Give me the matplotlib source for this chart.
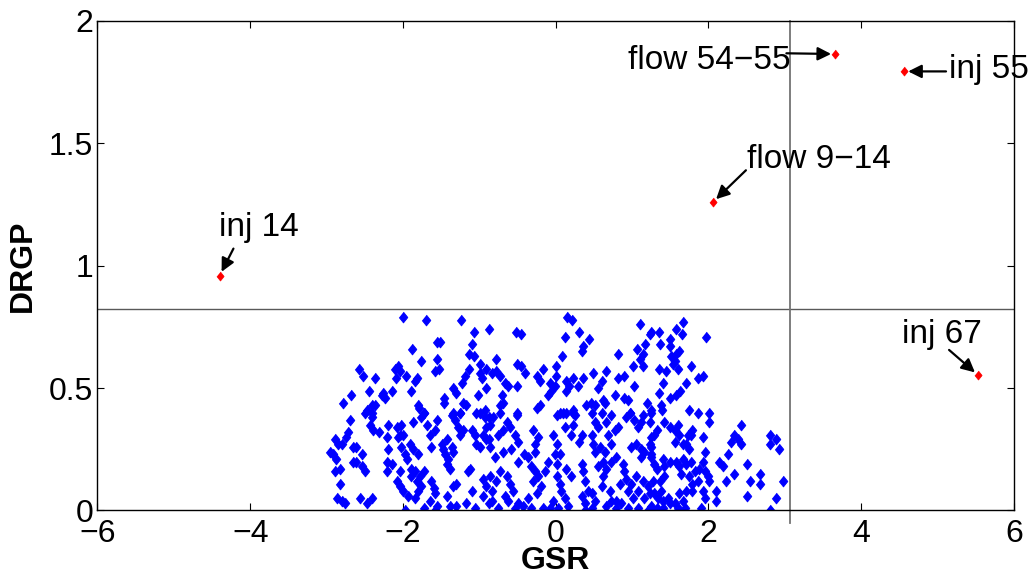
import matplotlib.pyplot as plt
import numpy as np

plt.rcParams['font.family'] = ['Liberation Sans', 'DejaVu Sans']

# (GSR, DRGP) of the ordinary cases
normal_pts = [
    (-2.00, 0.79), (-1.70, 0.78), (-1.24, 0.78), (-1.07, 0.73), (-0.88, 0.74), (-1.55, 0.69),
    (-1.52, 0.69), (-1.09, 0.68), (-1.88, 0.66), (-1.56, 0.62), (-1.13, 0.64), (-1.07, 0.63),
    (-1.76, 0.61), (-0.99, 0.60), (-2.57, 0.58), (-2.52, 0.55), (-2.06, 0.59), (-2.10, 0.58),
    (-2.04, 0.57), (-1.58, 0.57), (-1.53, 0.58), (-1.14, 0.58), (-2.37, 0.54), (-2.09, 0.54),
    (-1.96, 0.55), (-1.82, 0.54), (-1.84, 0.53), (-1.19, 0.55), (-1.23, 0.52), (-0.99, 0.56),
    (-0.97, 0.54), (-0.91, 0.58), (-0.91, 0.50), (-2.79, 0.44), (-2.68, 0.47), (-2.44, 0.49),
    (-2.26, 0.48), (-2.28, 0.47), (-2.24, 0.46), (-2.15, 0.49), (-1.90, 0.49), (-1.34, 0.50),
    (-1.30, 0.48), (-1.46, 0.46), (-1.46, 0.44), (-1.21, 0.44), (-1.18, 0.43), (-1.02, 0.47),
    (-1.81, 0.43), (-1.79, 0.42), (-2.47, 0.41), (-2.41, 0.43), (-2.37, 0.43), (-1.73, 0.40),
    (-1.34, 0.40), (-1.25, 0.40), (-1.04, 0.40), (-0.93, 0.41),
    # lower left
    (-2.69, 0.37), (-2.50, 0.40), (-2.41, 0.40), (-2.41, 0.38), (-2.43, 0.35), (-2.39, 0.33),
    (-2.32, 0.32), (-2.72, 0.32), (-2.75, 0.30), (-2.89, 0.29), (-2.85, 0.27), (-2.80, 0.27),
    (-2.95, 0.24), (-2.91, 0.23), (-2.88, 0.21), (-2.65, 0.26), (-2.61, 0.26), (-2.54, 0.23),
    (-2.65, 0.20), (-2.61, 0.20), (-2.54, 0.18), (-2.50, 0.16), (-2.89, 0.16), (-2.83, 0.17),
    (-2.82, 0.11), (-2.87, 0.05), (-2.80, 0.04), (-2.76, 0.03), (-2.56, 0.05), (-2.47, 0.03),
    (-2.41, 0.05), (-2.19, 0.35), (-2.21, 0.30), (-2.19, 0.25), (-2.21, 0.20), (-2.21, 0.16),
    (-2.15, 0.19), (-2.08, 0.34), (-2.04, 0.31), (-2.06, 0.30), (-2.02, 0.35), (-2.00, 0.31),
    (-2.02, 0.26), (-1.97, 0.23), (-1.95, 0.21), (-1.91, 0.27), (-1.87, 0.25), (-1.80, 0.23),
    (-2.04, 0.16), (-2.08, 0.12), (-2.04, 0.10), (-2.00, 0.08), (-1.93, 0.06), (-1.97, 0.00),
    (-1.89, 0.17), (-1.84, 0.16), (-1.89, 0.14), (-1.82, 0.12), (-1.78, 0.14), (-1.73, 0.16),
    (-1.76, 0.10), (-1.80, 0.08), (-1.84, 0.05), (-1.87, 0.36), (-1.76, 0.38), (-1.73, 0.40),
    (-1.69, 0.35), (-1.65, 0.31), (-1.63, 0.26), (-1.58, 0.33), (-1.56, 0.37), (-1.63, 0.12),
    (-1.60, 0.09), (-1.58, 0.07), (-1.65, 0.04), (-1.56, 0.02), (-1.58, 0.00), (-1.73, 0.01),
    (-1.49, 0.27), (-1.47, 0.25), (-1.45, 0.23), (-1.41, 0.21), (-1.43, 0.19), (-1.39, 0.17),
    (-1.43, 0.29), (-1.36, 0.26), (-1.34, 0.24), (-1.36, 0.39), (-1.32, 0.37), (-1.25, 0.40),
    (-1.28, 0.34), (-1.21, 0.33), (-1.25, 0.31), (-1.34, 0.10), (-1.30, 0.11), (-1.43, 0.06),
    (-1.39, 0.02), (-1.30, 0.02), (-1.17, 0.03), (-1.10, 0.08), (-1.06, 0.01), (-1.15, 0.16),
    (-1.12, 0.17), (-1.10, 0.33), (-1.06, 0.31), (-1.04, 0.27), (-0.99, 0.26), (-0.95, 0.31),
    (-0.91, 0.34), (-0.88, 0.29), (-0.93, 0.38), (-0.99, 0.40), (-0.95, 0.13), (-0.91, 0.10),
    (-0.95, 0.06), (-0.88, 0.03),
    # upper middle
    (0.15, 0.79), (0.21, 0.78), (-0.52, 0.73), (-0.45, 0.72), (0.30, 0.73), (0.12, 0.71),
    (0.44, 0.70), (1.10, 0.76), (1.23, 0.72), (0.36, 0.67), (0.34, 0.65), (0.82, 0.64),
    (1.07, 0.66), (1.17, 0.68), (1.14, 0.64), (1.10, 0.62), (1.14, 0.59), (0.08, 0.63),
    (-0.78, 0.62), (-0.84, 0.56), (-0.78, 0.57), (-0.73, 0.55), (-0.67, 0.52), (-0.62, 0.51),
    (-0.51, 0.60), (-0.45, 0.59), (-0.40, 0.56), (-0.51, 0.51), (-0.17, 0.58), (-0.25, 0.55),
    (-0.21, 0.53), (0.00, 0.59), (0.00, 0.55), (-0.08, 0.52), (-0.01, 0.51), (-0.06, 0.49),
    (-0.10, 0.47), (0.14, 0.53), (0.23, 0.54), (0.18, 0.51), (0.14, 0.49), (0.29, 0.51),
    (0.36, 0.54), (0.49, 0.56), (0.60, 0.53), (0.55, 0.50), (0.66, 0.57), (0.81, 0.54),
    (0.90, 0.55), (1.03, 0.51), (1.01, 0.59), (-0.71, 0.47), (-0.73, 0.43), (-0.69, 0.44),
    (-0.25, 0.42), (-0.21, 0.43), (-0.51, 0.40), (0.05, 0.40), (0.14, 0.40), (0.23, 0.41),
    (0.40, 0.43), (0.46, 0.44), (0.51, 0.43), (0.62, 0.45), (0.64, 0.44), (0.77, 0.47),
    (0.89, 0.46), (0.95, 0.45), (1.19, 0.44), (0.60, 0.40), (0.97, 0.40), (1.25, 0.41),
    # lower middle
    (-0.88, 0.38), (-0.86, 0.35), (-0.82, 0.38), (-0.91, 0.29), (-0.86, 0.26), (-0.73, 0.40),
    (-0.75, 0.31), (-0.69, 0.33), (-0.64, 0.36), (-0.60, 0.34), (-0.54, 0.31), (-0.51, 0.39),
    (-0.49, 0.28), (-0.80, 0.22), (-0.69, 0.24), (-0.58, 0.25), (-0.49, 0.20), (-0.41, 0.23),
    (-0.36, 0.22), (-0.27, 0.24), (-0.86, 0.14), (-0.78, 0.12), (-0.84, 0.08), (-0.73, 0.16),
    (-0.64, 0.14), (-0.60, 0.11), (-0.56, 0.08), (-0.67, 0.06), (-0.62, 0.04), (-0.49, 0.03),
    (-0.54, 0.01), (-0.84, 0.04), (-0.75, 0.01), (-0.30, 0.33), (-0.23, 0.30), (-0.27, 0.27),
    (-0.04, 0.31), (0.01, 0.27), (-0.01, 0.23), (-0.10, 0.20), (0.01, 0.19), (0.05, 0.23),
    (-0.32, 0.18), (-0.27, 0.16), (-0.23, 0.14), (-0.30, 0.12), (-0.19, 0.10), (-0.25, 0.07),
    (-0.36, 0.05), (-0.43, 0.02), (-0.32, 0.01), (-0.14, 0.16), (-0.17, 0.01), (-0.04, 0.04),
    (-0.08, 0.01), (0.01, 0.14), (0.05, 0.11), (0.07, 0.08), (0.03, 0.01), (0.12, 0.05),
    (0.16, 0.02), (0.14, 0.17), (0.01, 0.39), (0.10, 0.40), (0.23, 0.40), (0.25, 0.39),
    (0.12, 0.34), (0.23, 0.35), (0.20, 0.31), (0.34, 0.31), (0.31, 0.28), (0.20, 0.14),
    (0.34, 0.19), (0.36, 0.16), (0.38, 0.12), (0.42, 0.08), (0.34, 0.06), (0.38, 0.03),
    (0.47, 0.01), (0.47, 0.07), (0.51, 0.04), (0.38, 0.00), (0.47, 0.31), (0.49, 0.27),
    (0.51, 0.24), (0.58, 0.26), (0.64, 0.24), (0.62, 0.20), (0.55, 0.18), (0.66, 0.17),
    (0.47, 0.40), (0.51, 0.36), (0.55, 0.34), (0.66, 0.36), (0.73, 0.39), (0.68, 0.31),
    (0.77, 0.33), (0.82, 0.34), (0.73, 0.27), (0.62, 0.14), (0.60, 0.10), (0.71, 0.08),
    (0.73, 0.04), (0.66, 0.02), (0.79, 0.04), (0.79, 0.01), (0.86, 0.03), (0.73, 0.20),
    (0.79, 0.22), (0.88, 0.19), (0.90, 0.16), (0.92, 0.13), (0.84, 0.11), (0.99, 0.11),
    (0.94, 0.08), (0.92, 0.38), (0.97, 0.40), (1.03, 0.37), (1.08, 0.34), (1.12, 0.36),
    (1.14, 0.39), (1.25, 0.40), (1.23, 0.36), (0.99, 0.26), (1.05, 0.27), (1.12, 0.25),
    (1.16, 0.24), (1.23, 0.27), (1.25, 0.23), (1.12, 0.22), (1.05, 0.14), (1.14, 0.12),
    (1.21, 0.10), (1.08, 0.08), (1.01, 0.05), (1.16, 0.05), (1.23, 0.07), (0.94, 0.01),
    (1.08, 0.01), (1.21, 0.00), (1.25, 0.02),
    # upper right
    (1.66, 0.77), (1.25, 0.73), (1.35, 0.73), (1.58, 0.74), (1.65, 0.72), (1.97, 0.71),
    (1.50, 0.70), (1.37, 0.68), (1.50, 0.67), (1.62, 0.65), (1.58, 0.64), (1.51, 0.63),
    (1.56, 0.61), (1.53, 0.60), (1.35, 0.58), (1.45, 0.57), (1.60, 0.58), (1.77, 0.59),
    (1.40, 0.52), (1.70, 0.52), (1.86, 0.54), (1.93, 0.55), (1.35, 0.48), (1.49, 0.46),
    (1.58, 0.47), (1.63, 0.49), (1.38, 0.43), (1.39, 0.41), (1.74, 0.41), (1.86, 0.40),
    (2.01, 0.40),
    # lower right
    (2.01, 0.36), (1.32, 0.33), (1.29, 0.31), (1.42, 0.36), (1.49, 0.34), (1.56, 0.33),
    (1.62, 0.31), (1.60, 0.35), (1.73, 0.31), (1.79, 0.33), (1.77, 0.31), (1.93, 0.30),
    (1.71, 0.27), (1.66, 0.27), (1.56, 0.28), (1.75, 0.25), (1.95, 0.24), (1.93, 0.20),
    (1.25, 0.30), (1.25, 0.26), (1.25, 0.22), (1.29, 0.19), (1.32, 0.17), (1.40, 0.21),
    (1.42, 0.18), (1.49, 0.20), (1.58, 0.20), (1.62, 0.18), (1.66, 0.21), (1.71, 0.19),
    (1.77, 0.20), (1.82, 0.16), (1.88, 0.17), (1.64, 0.15), (1.75, 0.14), (1.95, 0.16),
    (1.99, 0.14), (2.01, 0.12), (1.27, 0.12), (1.36, 0.12), (1.42, 0.14), (1.38, 0.08),
    (1.29, 0.07), (1.34, 0.05), (1.40, 0.04), (1.47, 0.05), (1.49, 0.03), (1.56, 0.03),
    (1.62, 0.07), (1.71, 0.08), (1.66, 0.04), (1.60, 0.01), (1.69, 0.01), (1.32, 0.01),
    (1.40, 0.01), (1.25, 0.00), (1.79, 0.11), (1.86, 0.12), (1.93, 0.08), (1.95, 0.05),
    (1.90, 0.01), (2.10, 0.08), (2.10, 0.04), (1.79, 0.08), (2.30, 0.28), (2.34, 0.31),
    (2.38, 0.29), (2.43, 0.35), (2.43, 0.27), (2.14, 0.20), (2.19, 0.18), (2.25, 0.23),
    (2.34, 0.15), (2.23, 0.12), (2.51, 0.19), (2.54, 0.12), (2.67, 0.15), (2.67, 0.11),
    (2.51, 0.06), (2.80, 0.31), (2.80, 0.27), (2.88, 0.29), (2.92, 0.25), (2.98, 0.12),
    (2.88, 0.05), (2.81, 0.00),
]
gsr = np.array([p[0] for p in normal_pts])
drgp = np.array([p[1] for p in normal_pts])

# flagged cases
out_gsr = [-4.40, 2.06, 3.66, 4.56, 5.53]
out_drgp = [0.96, 1.26, 1.865, 1.794, 0.553]
out_labels = ['inj 14', 'flow 9\u221214', 'flow 54\u221255', 'inj 55', 'inj 67']

gsr_thr = 3.07
drgp_thr = 0.823

# label placement (left/centre of text) and where each arrow starts
label_pos = [(-4.41, 1.156), (2.51, 1.434), (0.94, 1.837), (5.15, 1.80), (4.53, 0.717)]
arrow_from = [(-4.22, 1.07), (2.49, 1.39), (3.02, 1.868), (5.11, 1.794), (5.15, 0.656)]

fig = plt.figure(figsize=(10.35, 5.83), dpi=100)
ax = fig.add_axes([0.0942, 0.1244, 0.8855, 0.8396])

diamond = [(0, 1), (0.8, 0), (0, -1), (-0.8, 0)]

ax.axhline(drgp_thr, color='0.35', lw=1, zorder=1)
ax.axvline(gsr_thr, ymin=-0.025, ymax=1.0, color='0.45', lw=1.3, zorder=1, clip_on=False)

ax.plot(gsr, drgp, ls='none', marker=diamond, ms=7.8, color='#0000ff',
        mec='#0000ff', mew=0.6, zorder=2)
ax.plot(out_gsr, out_drgp, ls='none', marker=diamond, ms=6.5, color='#ff0000',
        mec='#ff0000', mew=0.5, zorder=3)

for (px, py), (tx, ty), (ax0, ay0), lab in zip(zip(out_gsr, out_drgp), label_pos,
                                               arrow_from, out_labels):
    ax.text(tx, ty, lab, fontsize=24, ha='left', va='center', zorder=4)
    ax.annotate('', xy=(px, py), xytext=(ax0, ay0),
                arrowprops=dict(arrowstyle='-|>', color='k', lw=1.6,
                                mutation_scale=20, shrinkA=0, shrinkB=3))

ax.set_xlim(-6, 6)
ax.set_ylim(0, 2)
ax.set_xticks([-6, -4, -2, 0, 2, 4, 6])
ax.set_yticks([0, 0.5, 1, 1.5, 2])
ax.set_yticklabels(['0', '0.5', '1', '1.5', '2'])
ax.tick_params(direction='in', length=5, width=0.8, top=True, right=True,
               labelsize=23, pad=3)
ax.tick_params(axis='x', pad=6)
for s in ax.spines.values():
    s.set_linewidth(1.0)

ax.set_xlabel('GSR', fontsize=23, fontweight='bold', labelpad=-2)
ax.set_ylabel('DRGP', fontsize=23, fontweight='bold', labelpad=8)

fig.savefig('out.png', dpi=100)
